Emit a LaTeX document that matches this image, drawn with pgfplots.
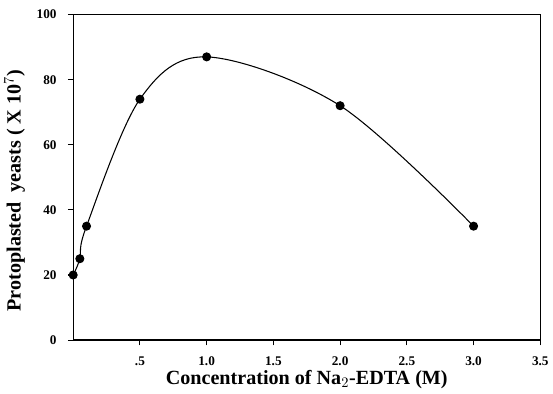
\documentclass[border=0pt]{standalone}
\usepackage{pgfplots}
\pgfplotsset{compat=1.18}
\usepackage{fontspec}
\setmainfont{Liberation Serif}

\begin{document}
\begin{tikzpicture}
  \begin{axis}[
    scale only axis,
    width=353pt,
    height=246pt,
    xmin=0, xmax=3.5,
    ymin=0, ymax=100,
    xtick={0.5,1.0,1.5,2.0,2.5,3.0,3.5},
    xticklabels={.5,1.0,1.5,2.0,2.5,3.0,3.5},
    ytick={0,20,40,60,80,100},
    tick align=outside,
    tick pos=left,
    major tick length=4pt,
    axis line style={line width=1pt},
    every tick/.style={black, line width=0.8pt},
    /pgf/number format/assume math mode=true,
    tick label style={font=\normalsize\bfseries},
    xticklabel style={yshift=-5pt},
    yticklabel style={xshift=-5pt},
    xlabel={Concentration of Na$_2$-EDTA (M)},
    ylabel={Protoplasted\ \ yeasts ( X 10$^7$)},
    label style={font=\fontsize{15.2}{18}\selectfont\bfseries},
    xlabel style={yshift=3pt},
    ylabel style={yshift=2pt, xshift=-10pt},
    clip=false,
  ]
  \addplot[
    smooth, tension=0.55,
    black, line width=0.8pt,
    mark=*, mark size=3pt, mark options={fill=black}
  ] coordinates {
    (0, 20) (0.05, 25) (0.1, 35) (0.5, 74) (1.0, 87) (2.0, 72) (3.0, 35)
  };
  \end{axis}
  % room above the frame, as in the original
  \path (current axis.north) ++(0,11pt);
\end{tikzpicture}
\end{document}
